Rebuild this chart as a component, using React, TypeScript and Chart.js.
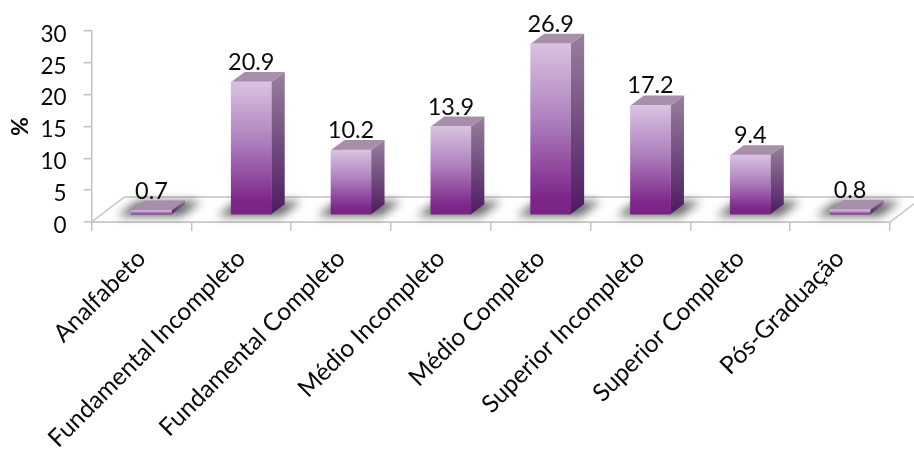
import React, { useEffect, useRef } from "react";
import { Chart, registerables } from "chart.js";

Chart.register(...registerables);

const categories = [
  "Analfabeto",
  "Fundamental Incompleto",
  "Fundamental Completo",
  "Médio Incompleto",
  "Médio Completo",
  "Superior Incompleto",
  "Superior Completo",
  "Pós-Graduação",
];
const percentages = [0.7, 20.9, 10.2, 13.9, 26.9, 17.2, 9.4, 0.8];
const axisTitle = "%";

const FONT = "Lato, 'Open Sans', sans-serif";
const INK = "#0a0a0a";
const SHIFT_X = 10; // front faces sit this far into the floor
const SHIFT_Y = -7;
const DEPTH_X = 13.5; // prism depth projection
const DEPTH_Y = -10;
const FLOOR_X = 33;
const FLOOR_Y = -25;
const LINE = "#c4c4c4";

const poly = (ctx: CanvasRenderingContext2D, pts: number[][]) => {
  ctx.beginPath();
  pts.forEach(([x, y], i) => (i ? ctx.lineTo(x, y) : ctx.moveTo(x, y)));
  ctx.closePath();
};

const prismPlugin = {
  id: "prism",
  beforeDatasetsDraw(chart: any) {
    const { ctx, chartArea: a } = chart;
    const y0 = chart.scales.y.getPixelForValue(0);
    // floor plane
    ctx.save();
    poly(ctx, [
      [a.left, y0],
      [a.right, y0],
      [a.right + FLOOR_X, y0 + FLOOR_Y],
      [a.left + FLOOR_X, y0 + FLOOR_Y],
    ]);
    ctx.fillStyle = "#ffffff";
    ctx.fill();
    ctx.strokeStyle = LINE;
    ctx.lineWidth = 1.5;
    ctx.stroke();
    // soft contact shadows under each bar
    const meta = chart.getDatasetMeta(0);
    ctx.filter = "blur(5px)";
    ctx.fillStyle = "rgba(60,60,60,0.78)";
    meta.data.forEach((bar: any) => {
      const l = bar.x - bar.width / 2 + SHIFT_X;
      const r = l + bar.width;
      const b = bar.base + SHIFT_Y;
      poly(ctx, [
        [l - 14, b + 2],
        [r + 10, b + 2],
        [r + 30, b - 13],
        [l + 6, b - 13],
      ]);
      ctx.fill();
    });
    ctx.restore();
  },
  beforeDatasetDraw(chart: any) {
    const { ctx } = chart;
    const meta = chart.getDatasetMeta(0);
    ctx.save();
    meta.data.forEach((bar: any) => {
      const l = bar.x - bar.width / 2 + SHIFT_X;
      const r = l + bar.width;
      const t = bar.y + SHIFT_Y;
      const b = bar.base + SHIFT_Y;
      const side = ctx.createLinearGradient(0, t + DEPTH_Y, 0, b);
      side.addColorStop(0, "#97809c");
      side.addColorStop(1, "#4e1a62");
      poly(ctx, [
        [r, t],
        [r + DEPTH_X, t + DEPTH_Y],
        [r + DEPTH_X, b + DEPTH_Y],
        [r, b],
      ]);
      ctx.fillStyle = side;
      ctx.fill();
      poly(ctx, [
        [l, t],
        [l + DEPTH_X, t + DEPTH_Y],
        [r + DEPTH_X, t + DEPTH_Y],
        [r, t],
      ]);
      ctx.fillStyle = "#a78fa9";
      ctx.fill();
    });
    ctx.restore();
    // the front faces are the chart's own bars, moved onto the floor
    ctx.save();
    ctx.translate(SHIFT_X, SHIFT_Y);
  },
  afterDatasetDraw(chart: any) {
    chart.ctx.restore();
  },
  afterDatasetsDraw(chart: any) {
    const { ctx } = chart;
    const meta = chart.getDatasetMeta(0);
    ctx.save();
    ctx.font = `23.5px ${FONT}`;
    ctx.fillStyle = INK;
    ctx.textAlign = "center";
    ctx.textBaseline = "alphabetic";
    meta.data.forEach((bar: any, i: number) => {
      ctx.fillText(String(percentages[i]), bar.x + SHIFT_X, bar.y + SHIFT_Y - 12);
    });
    ctx.restore();
  },
};

export default function App() {
  const ref = useRef<HTMLCanvasElement>(null);
  useEffect(() => {
    if (!ref.current) return;
    const chart = new Chart(ref.current, {
      type: "bar",
      data: {
        labels: categories,
        datasets: [
          {
            data: percentages,
            barThickness: 40,
            borderWidth: 0,
            backgroundColor: (c: any) => {
              const scale = c.chart.scales.y;
              if (!c.chart.chartArea || !scale || c.raw === undefined) return "#7a2385";
              const top = scale.getPixelForValue(c.raw);
              const base = scale.getPixelForValue(0);
              if (!Number.isFinite(top) || !Number.isFinite(base)) return "#7a2385";
              const g = c.chart.ctx.createLinearGradient(0, top, 0, base);
              g.addColorStop(0, "#d9c3e0");
              g.addColorStop(0.45, "#ad7fbd");
              g.addColorStop(0.9, "#7d2589");
              g.addColorStop(1, "#7a2385");
              return g;
            },
          },
        ],
      },
      options: {
        responsive: false,
        animation: false,
        layout: { padding: { top: 31, right: 24 } },
        plugins: { legend: { display: false }, tooltip: { enabled: false } },
        scales: {
          x: {
            afterFit: (s: any) => {
              s.height = 228;
            },
            grid: { drawOnChartArea: false, color: LINE, tickLength: 9, lineWidth: 1.5 },
            border: { color: LINE, width: 1.5 },
            ticks: {
              minRotation: 45,
              maxRotation: 45,
              padding: 13,
              color: INK,
              font: { family: FONT, size: 24.5 },
            },
          },
          y: {
            min: 0,
            max: 30,
            afterFit: (s: any) => {
              s.width = 91.5;
            },
            grid: { drawOnChartArea: false, color: LINE, tickLength: 8, lineWidth: 1.5 },
            border: { color: LINE, width: 1.5 },
            ticks: {
              stepSize: 5,
              padding: 17,
              labelOffset: 3.5,
              color: INK,
              font: { family: FONT, size: 22.5 },
            },
            title: {
              display: true,
              text: axisTitle,
              color: INK,
              padding: { top: 7, bottom: 0 },
              font: { family: FONT, size: 23, weight: "bold" },
            },
          },
        },
      },
      plugins: [prismPlugin],
    } as any);
    return () => chart.destroy();
  }, []);
  return (
    <div style={{ position: "absolute", left: 0, top: 0, width: 914, height: 450, background: "#fff" }}>
      <canvas ref={ref} width={914} height={450} style={{ display: "block" }} />
    </div>
  );
}
